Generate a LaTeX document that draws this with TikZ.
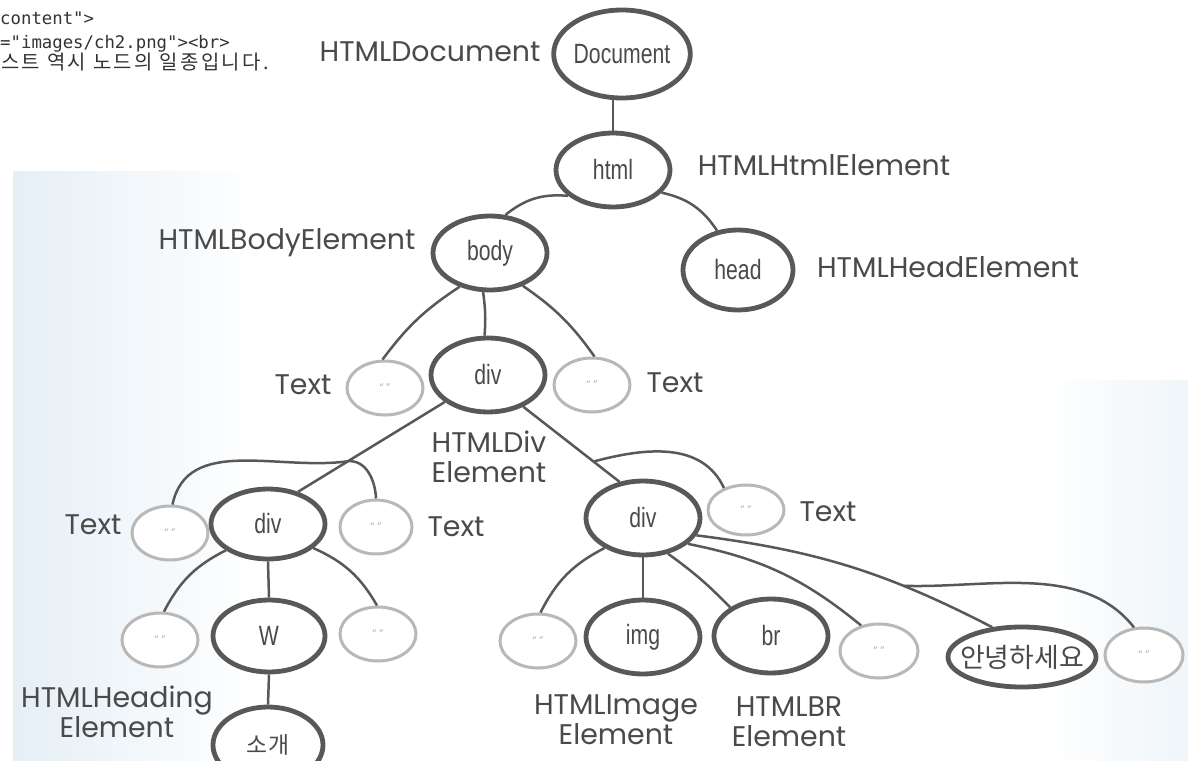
\documentclass[tikz,border=0pt]{standalone}
\usepackage{fontspec}
\setmainfont{Poppins}
\newfontfamily\lblfont{Poppins}
\newfontfamily\nodefont[FakeStretch=0.76]{Liberation Sans}
\newfontfamily\cjk{Noto Sans CJK KR}
\newfontfamily\cjkwide[LetterSpace=12]{Noto Sans CJK KR}
\newfontfamily\codefont{DejaVu Sans Mono}
\usetikzlibrary{shapes.geometric}
\definecolor{elemline}{HTML}{585858}
\definecolor{textline}{HTML}{B8B8B8}
\definecolor{ink}{HTML}{4A4A4A}
\definecolor{tint}{HTML}{E5EFF6}
\tikzset{
  elem/.style n args={2}{ellipse, draw=elemline, line width=4.8bp, fill=white,
    minimum width=#1, minimum height=#2, inner sep=0pt,
    font=\nodefont\fontsize{28}{30}\selectfont, text=ink},
  txt/.style={ellipse, draw=textline, line width=3bp, fill=white,
    minimum width=76bp, minimum height=54bp, inner sep=0pt,
    font=\fontsize{11}{11}\selectfont, text=gray!60},
  lbl/.style={font=\lblfont\fontsize{28.5}{30}\selectfont, text=ink, align=center, inner sep=0pt},
  code/.style={font=\codefont\fontsize{17.4}{20}\selectfont, text=black!80, inner sep=0pt, anchor=base west},
  conn/.style={draw=elemline, line width=2.5bp},
}
\newcommand{\qq}{\textquotedblleft\ \textquotedblright}
\begin{document}
\begin{tikzpicture}[x=1bp,y=-1bp]
\useasboundingbox (0,0) rectangle (1188,761);
\clip (0,0) rectangle (1188,761);
\fill[white] (0,0) rectangle (1188,761);
\shade[left color=tint, right color=white] (13,171) rectangle (260,761);
\shade[left color=white, right color=tint!60] (1040,380) rectangle (1188,761);

% code text at top-left
\node[code] (c1) at (0,25) {content">};
\node[code] (c2) at (0,49) {="images/ch2.png"><br>};
\node[code, font=\cjkwide\fontsize{20}{22}\selectfont] (c3) at (1,70) {스트 역시 노드의 일종입니다.};

% element nodes
\node[elem={130bp}{88bp}] (doc) at (622,54) {Document};
\node[elem={114bp}{74bp}] (html) at (613,170) {html};
\node[elem={114bp}{74bp}] (body) at (490,253) {body};
\node[elem={110bp}{80bp}] (head) at (738,270) {head};
\node[elem={114bp}{74bp}] (div3) at (488,375) {div};
\node[elem={114bp}{70bp}] (divL) at (268,524) {div};
\node[elem={112bp}{72bp}] (w) at (269,636) {W};
\node[elem={110bp}{76bp}, font=\cjk\fontsize{23}{24}\selectfont] (sogae) at (268,745) {소개};
\node[elem={114bp}{74bp}] (divR) at (643,518) {div};
\node[elem={114bp}{74bp}] (img) at (643,637) {img};
\node[elem={114bp}{74bp}] (br) at (771,636) {br};
\node[elem={148bp}{60bp}, inner xsep=-30bp, font=\cjk\fontsize{27}{28}\selectfont] (hello) at (1022,657) {안녕하세요};

% text nodes
\node[txt] (tL3) at (385,388) {\qq};
\node[txt] (tR3) at (592,385) {\qq};
\node[txt] (tLL) at (170,533) {\qq};
\node[txt, minimum width=72bp] (tLR) at (376,527) {\qq};
\node[txt, minimum height=50bp] (tRR) at (746,510) {\qq};
\node[txt] (hL) at (160,640) {\qq};
\node[txt] (hR) at (378,634) {\qq};
\node[txt] (e1) at (538,641) {\qq};
\node[txt, minimum width=78bp] (e2) at (879,651) {\qq};
\node[txt, minimum width=78bp] (e3) at (1144,655) {\qq};

% labels
\node[lbl] (lDoc) at (430,52) {HTMLDocument};
\node[lbl] (lHtml) at (824,165) {HTMLHtmlElement};
\node[lbl] (lBody) at (287,243) {HTMLBodyElement};
\node[lbl] (lHead) at (948,267) {HTMLHeadElement};
\node[lbl] (lT1) at (303,385) {Text};
\node[lbl] (lT2) at (675,383) {Text};
\node[lbl] (lDiv) at (489,457) {HTMLDiv\\Element};
\node[lbl] (lT3) at (93,525) {Text};
\node[lbl] (lT4) at (456,527) {Text};
\node[lbl] (lT5) at (828,512) {Text};
\node[lbl] (lHd) at (117,712) {HTMLHeading\\Element};
\node[lbl] (lImg) at (616,720) {HTMLImage\\Element};
\node[lbl] (lBr) at (789,722) {HTMLBR\\Element};

% connectors
\draw[conn] (html.north) -- (html.north |- doc.south);
\draw[conn] (html.210) to[bend right=22] (body.68);
\draw[conn] (html.-25) to[bend left=22] (head.118);
\draw[conn] (body.228) to[bend right=10] (tL3.95);
\draw[conn] (body.-100) to[bend left=6] (div3.95);
\draw[conn] (body.-45) to[bend left=10] (tR3.85);

\draw[conn] (div3.212) -- coordinate[pos=0.66] (j1) (divL.47);
\draw[conn] (j1) to[out=188,in=78] (tLL.85);
\draw[conn] (j1) to[out=5,in=92] (tLR.90);

\draw[conn] (div3.318) -- coordinate[pos=0.73] (j2) (divR.123);
\draw[conn] (j2) to[out=15,in=115] (tRR.135);

\draw[conn] (divL.212) to[bend right=18] (hL.82);
\draw[conn] (divL.south) -- (w.north);
\draw[conn] (divL.-28) to[bend left=18] (hR.92);
\draw[conn] (w.south) -- (sogae.north);

\draw[conn] (divR.218) to[bend right=18] (e1.85);
\draw[conn] (divR.-55) to[bend left=5] (br.145);
\draw[conn] (divR.south) -- (img.north);
\draw[conn] (divR.-30) to[bend left=14] (e2.125);
\draw[conn] (divR.-18) to[bend left=10] coordinate[pos=0.7] (j3) (hello.135);
\draw[conn] (j3) to[out=-2,in=128,looseness=0.9] (e3.110);
\end{tikzpicture}
\end{document}
